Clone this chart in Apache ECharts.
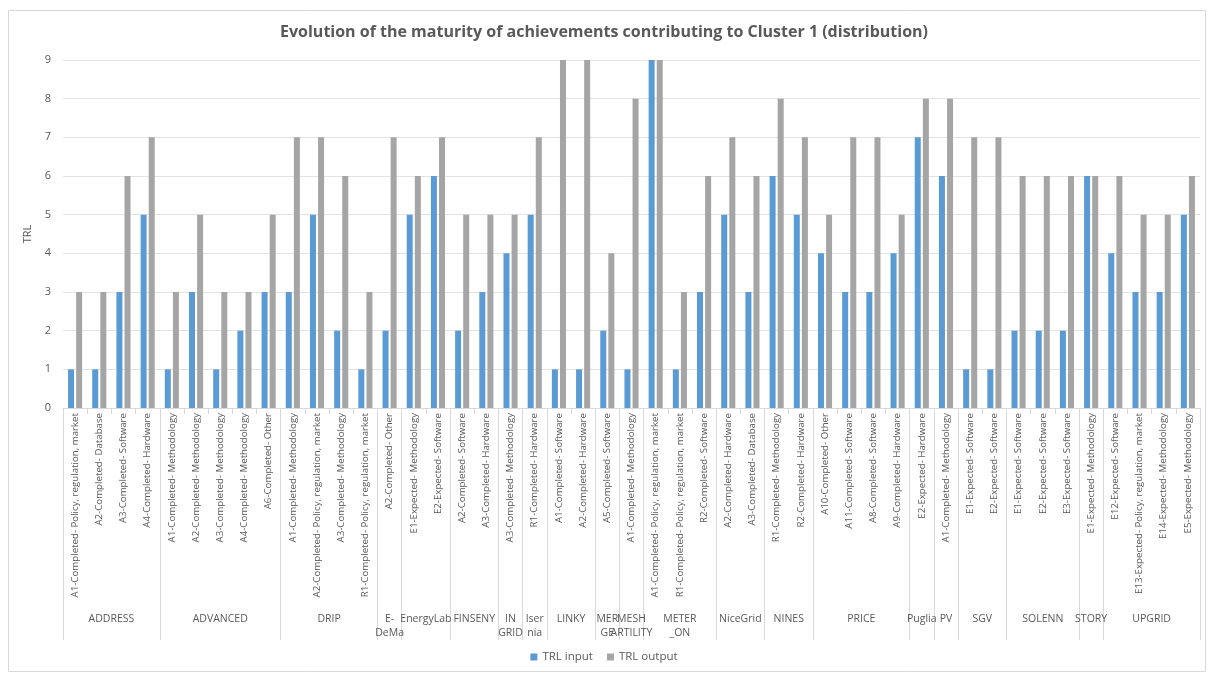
<!DOCTYPE html>
<html>
<head>
<meta charset="utf-8">
<script src="https://cdn.jsdelivr.net/npm/echarts@6/dist/echarts.min.js"></script>
<style>html,body{margin:0;padding:0;background:#fff}#c{width:1208px;height:675px}</style>
</head>
<body>
<div id="c"></div>
<script>
const groups = ['ADDRESS','ADVANCED','DRIP','E-\nDeMa','EnergyLab','FINSENY','IN\nGRID','Iser\nnia','LINKY','MER\nGE','MESH\nARTILITY','METER\n_ON','NiceGrid','NINES','PRICE','Puglia','PV','SGV','SOLENN','STORY','UPGRID'];
const groupSizes = [4,5,4,1,2,2,1,1,2,1,1,3,2,2,4,1,1,2,3,1,4];
const categories = [
  'A1-Completed- Policy, regulation, market','A2-Completed- Database','A3-Completed- Software','A4-Completed- Hardware',
  'A1-Completed- Methodology','A2-Completed- Methodology','A3-Completed- Methodology','A4-Completed- Methodology','A6-Completed- Other',
  'A1-Completed- Methodology','A2-Completed- Policy, regulation, market','A3-Completed- Methodology','R1-Completed- Policy, regulation, market',
  'A2-Completed- Other',
  'E1-Expected- Methodology','E2-Expected- Software',
  'A2-Completed- Software','A3-Completed- Hardware',
  'A3-Completed- Methodology',
  'R1-Completed- Hardware',
  'A1-Completed- Software','A2-Completed- Hardware',
  'A5-Completed- Software',
  'A1-Completed- Methodology',
  'A1-Completed- Policy, regulation, market','R1-Completed- Policy, regulation, market','R2-Completed- Software',
  'A2-Completed- Hardware','A3-Completed- Database',
  'R1-Completed- Methodology','R2-Completed- Hardware',
  'A10-Completed- Other','A11-Completed- Software','A8-Completed- Software','A9-Completed- Hardware',
  'E2-Expected- Hardware',
  'A1-Completed- Methodology',
  'E1-Expected- Software','E2-Expected- Software',
  'E1-Expected- Software','E2-Expected- Software','E3-Expected- Software',
  'E1-Expected- Methodology',
  'E12-Expected- Software','E13-Expected- Policy, regulation, market','E14-Expected- Methodology','E5-Expected- Methodology'
];
const trlInput = [1,1,3,5, 1,3,1,2,3, 3,5,2,1, 2, 5,6, 2,3, 4, 5, 1,1, 2, 1, 9,1,3, 5,3, 6,5, 4,3,3,4, 7, 6, 1,1, 2,2,2, 6, 4,3,3,5];
const trlOutput = [3,3,6,7, 3,5,3,3,5, 7,7,6,3, 7, 6,7, 5,5, 5, 7, 9,9, 4, 8, 9,3,6, 7,6, 8,7, 5,7,7,5, 8, 8, 7,7, 6,6,6, 6, 6,5,5,6];
const yTicks = [0,9,1];

// Build group axis (half-category resolution points)
const N = categories.length;
const groupAxisData = new Array(2 * N + 1).fill('');
const boundaries = new Set();
let s = 0;
groups.forEach((g, i) => {
  boundaries.add(2 * s);
  groupAxisData[2 * s + groupSizes[i]] = g;
  s += groupSizes[i];
});
boundaries.add(2 * s);

const txt = '#595959';
const font = 'Open Sans';
const chart = echarts.init(document.getElementById('c'));
chart.setOption({
  animation: false,
  textStyle: { fontFamily: font },
  title: {
    text: 'Evolution of the maturity of achievements contributing to Cluster 1 (distribution)',
    left: 'center', top: 19,
    textStyle: { fontSize: 16, fontWeight: 'bold', color: txt, fontFamily: font }
  },
  graphic: [{
    type: 'rect', left: 6, top: 8, shape: { width: 1197, height: 661 },
    style: { fill: 'none', stroke: '#d9d9d9', lineWidth: 1 }, silent: true
  }],
  legend: {
    bottom: 7, left: 'center', icon: 'rect', itemWidth: 7, itemHeight: 7, itemGap: 14,
    textStyle: { fontSize: 11.5, color: txt, fontFamily: font },
    data: ['TRL input', 'TRL output']
  },
  grid: { left: 63, right: 8, top: 60, bottom: 267, containLabel: false },
  yAxis: {
    type: 'value', min: yTicks[0], max: yTicks[1], interval: yTicks[2],
    name: 'TRL', nameLocation: 'middle', nameGap: 28, nameRotate: 90,
    nameTextStyle: { fontSize: 11, color: txt, fontFamily: font },
    axisLine: { show: false }, axisTick: { show: false },
    axisLabel: { fontSize: 11, color: txt, margin: 12 },
    splitLine: { lineStyle: { color: '#e3e3e3' } }
  },
  xAxis: [{
    type: 'category', data: categories, position: 'bottom',
    axisLine: { lineStyle: { color: '#d9d9d9' } },
    axisTick: { show: true, interval: 0, length: 6, lineStyle: { color: '#d9d9d9' } },
    axisLabel: { interval: 0, rotate: 90, fontSize: 9.7, color: txt, margin: 5 }
  }, {
    type: 'category', data: groupAxisData, position: 'bottom', boundaryGap: false,
    axisLine: { show: false },
    axisTick: { show: true, interval: (i) => boundaries.has(i), length: 232, lineStyle: { color: '#d9d9d9' } },
    axisLabel: { interval: (i, v) => v !== '', fontSize: 10.5, color: txt, margin: 204, lineHeight: 14 },
    splitLine: { show: false }
  }],
  series: [{
    name: 'TRL input', type: 'bar', data: trlInput, xAxisIndex: 0,
    barWidth: 6, barGap: '35%', itemStyle: { color: '#5B9BD5' }
  }, {
    name: 'TRL output', type: 'bar', data: trlOutput, xAxisIndex: 0,
    barWidth: 6, barGap: '35%', itemStyle: { color: '#A5A5A5' }
  }]
});
</script>
</body>
</html>
